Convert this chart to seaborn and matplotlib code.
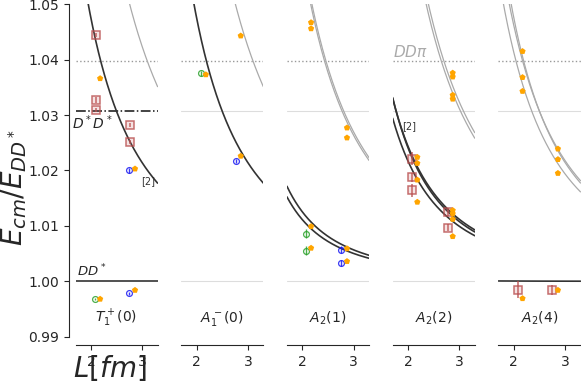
import numpy as np
import pandas as pd
import seaborn as sns
import matplotlib.pyplot as plt

# Rótulos dos painéis (irreps)
rotulos = [r'$T_1^+(0)$', r'$A_1^-(0)$', r'$A_2(1)$', r'$A_2(2)$', r'$A_2(4)$']

# Massas (GeV) usadas nas curvas de energia livre
m_D, m_Dst, m_pi = 1.927, 2.049, 0.280
hbarc = 0.1973

# Níveis livres por painel: (|P|^2, n1 do D, n2 do D*, escuro?)
niveis_painel = [0, 0, 0, 1, 1, 2, 2, 2, 2, 3, 3, 3, 3, 3, 4, 4, 4, 4]
niveis_P2 = [0, 0, 0, 0, 0, 1, 1, 1, 1, 2, 2, 2, 2, 2, 4, 4, 4, 4]
niveis_n1 = [0, 1, 2, 1, 2, 0, 1, 1, 2, 0, 2, 1, 3, 1, 1, 0, 4, 2]
niveis_n2 = [0, 1, 2, 1, 2, 1, 0, 2, 1, 2, 0, 1, 1, 3, 1, 4, 0, 2]
niveis_escuro = [1, 1, 0, 1, 0, 1, 1, 0, 0, 1, 1, 1, 0, 0, 1, 0, 0, 0]

# Quadrados (marrons)
sq_painel = [0, 0, 0, 0, 0, 3, 3, 3, 3, 3, 4, 4]
sq_L = [2.09, 2.09, 2.09, 2.76, 2.76, 2.08, 2.08, 2.08, 2.77, 2.77, 2.08, 2.75]
sq_E = [1.0444, 1.0327, 1.0309, 1.0282, 1.0251, 1.0221, 1.0188, 1.0164, 1.0125, 1.0097, 0.9985, 0.9985]
sq_err = [0.0004, 0.0005, 0.0004, 0.0004, 0.0004, 0.0012, 0.0008, 0.0012, 0.0007, 0.0007, 0.0016, 0.0009]

# Círculos (verde: L pequeno, azul: L grande)
ci_painel = [0, 0, 0, 1, 1, 2, 2, 2, 2]
ci_L = [2.08, 2.75, 2.75, 2.08, 2.76, 2.07, 2.07, 2.76, 2.76]
ci_E = [0.9968, 0.9978, 1.0200, 1.0375, 1.0217, 1.0086, 1.0055, 1.0057, 1.0033]
ci_err = [0.0002, 0.0003, 0.0004, 0.0004, 0.0004, 0.0008, 0.0008, 0.0006, 0.0005]

# Pentágonos laranjas
pt_painel = [0, 0, 0, 0,
             1, 1, 1,
             2, 2, 2, 2, 2, 2, 2, 2,
             3, 3, 3, 3, 3, 3, 3, 3, 3, 3, 3, 3,
             4, 4, 4, 4, 4, 4, 4, 4]
pt_L = [2.18, 2.86, 2.18, 2.86,
        2.18, 2.86, 2.86,
        2.17, 2.17, 2.87, 2.87, 2.17, 2.17, 2.87, 2.87,
        2.87, 2.87, 2.87, 2.87, 2.18, 2.18, 2.18, 2.18, 2.87, 2.87, 2.87, 2.87,
        2.17, 2.17, 2.17, 2.86, 2.86, 2.86, 2.17, 2.86]
pt_E = [1.0366, 1.0203, 0.9968, 0.9984,
        1.0373, 1.0443, 1.0226,
        1.0467, 1.0456, 1.0277, 1.0259, 1.0099, 1.0060, 1.0059, 1.0036,
        1.0376, 1.0369, 1.0336, 1.0329, 1.0224, 1.0213, 1.0183, 1.0143, 1.0128, 1.0122, 1.0112, 1.0081,
        1.0415, 1.0368, 1.0343, 1.0239, 1.0220, 1.0195, 0.9969, 0.9984]

cor_sq = (0.72, 0.30, 0.30, 0.8)
fundo_sq = (0.80, 0.40, 0.40, 0.18)
cor_verde = (0.17, 0.63, 0.17, 0.85)
cor_azul = (0.10, 0.10, 0.95, 0.85)
cor_laranja = '#ffa500'


def energia_livre(L, P2, n1, n2):
    p0 = 2 * np.pi * hbarc / L
    E = np.sqrt(m_D**2 + n1 * p0**2) + np.sqrt(m_Dst**2 + n2 * p0**2)
    return np.sqrt(E**2 - P2 * p0**2) / (m_D + m_Dst)


limiar_DsDs = 2 * m_Dst / (m_D + m_Dst)
limiar_DDpi = (2 * m_D + m_pi) / (m_D + m_Dst)

L_grade = np.linspace(1.7, 3.3, 200)

sns.set_style('ticks')
fig, axes = plt.subplots(1, 5, figsize=(5.81, 3.85), dpi=100, sharey=True)
fig.subplots_adjust(left=75.5 / 581, right=580.5 / 581, bottom=48.3 / 385, top=380.8 / 385, wspace=0.288)

for i, ax in enumerate(axes):
    # Linhas de limiar
    ax.axhline(limiar_DDpi, color='#999999', ls=':', lw=1)
    if i == 0:
        ax.axhline(limiar_DsDs, color='#111111', ls='-.', lw=1.1)
    else:
        ax.axhline(limiar_DsDs, color='#dddddd', lw=0.8)
        if i < 4:
            ax.axhline(1.0, color='#dddddd', lw=0.8)

    # Curvas de energia livre
    for k in range(len(niveis_painel)):
        if niveis_painel[k] != i:
            continue
        y = energia_livre(L_grade, niveis_P2[k], niveis_n1[k], niveis_n2[k])
        escuro = niveis_escuro[k]
        sns.lineplot(x=L_grade, y=y, ax=ax, color='#333333' if escuro else '#aaaaaa',
                     lw=1.2 if escuro else 0.9, sort=False)

    # Quadrados
    for L, E, e, p in zip(sq_L, sq_E, sq_err, sq_painel):
        if p == i:
            ax.errorbar(L, E, yerr=e, fmt='s', ms=5.5, color=cor_sq, mec=cor_sq, mfc=fundo_sq,
                        mew=1.1, elinewidth=1.2, zorder=4)

    # Círculos
    for L, E, e, p in zip(ci_L, ci_E, ci_err, ci_painel):
        if p == i:
            c = cor_verde if L < 2.4 else cor_azul
            ax.errorbar(L, E, yerr=e, fmt='o', ms=4.2, color=c, mfc='none', mew=0.9,
                        elinewidth=1.0, zorder=4)

    # Pentágonos
    df = pd.DataFrame({'L': pt_L, 'E': pt_E, 'p': pt_painel})
    df = df[df['p'] == i]
    sns.scatterplot(data=df, x='L', y='E', ax=ax, marker='p', s=22, color=cor_laranja,
                    edgecolor='none', zorder=5)

    ax.text(2.5, 0.9933, rotulos[i], ha='center', va='center', fontsize=10)

    ax.set_xlim(1.7, 3.3)
    ax.set_ylim(0.99, 1.05)
    ax.set_xticks([2, 3])
    ax.set_xlabel('')
    ax.set_ylabel('')
    ax.tick_params(labelsize=10)
    if i == 0:
        sns.despine(ax=ax, offset={'left': 5, 'bottom': 6})
    else:
        sns.despine(ax=ax, left=True, offset={'bottom': 6})
        ax.tick_params(axis='y', left=False)

ax0 = axes[0]
ax0.set_yticks([0.99, 1.00, 1.01, 1.02, 1.03, 1.04, 1.05])
ax0.set_yticklabels(['0.99', '1.00', '1.01', '1.02', '1.03', '1.04', '1.05'])

# Textos
ax0.text(1.72, 1.0003, r'$DD^*$', ha='left', va='bottom', fontsize=9.5)
ax0.text(1.63, 1.0303, r'$D^*D^*$', ha='left', va='top', fontsize=10)
ax0.text(2.98, 1.0171, '[2]', ha='left', va='bottom', fontsize=7, color='#333333')
axes[3].text(1.88, 1.0280, '[2]', ha='left', va='center', fontsize=7, color='#333333')
axes[3].text(1.7, 1.0400, r'$DD\pi$', ha='left', va='bottom', fontsize=11, color='#aaaaaa')

ax0.set_xlabel(r'$L[fm]$', fontsize=20)
ax0.xaxis.set_label_coords(0.42, -0.05)
ax0.xaxis.label.set_va('top')
ax0.set_ylabel(r'$E_{cm}/E_{DD^*}$', fontsize=20)
ax0.yaxis.set_label_coords(-0.57, 0.45)

fig.savefig('out.png', dpi=100)
